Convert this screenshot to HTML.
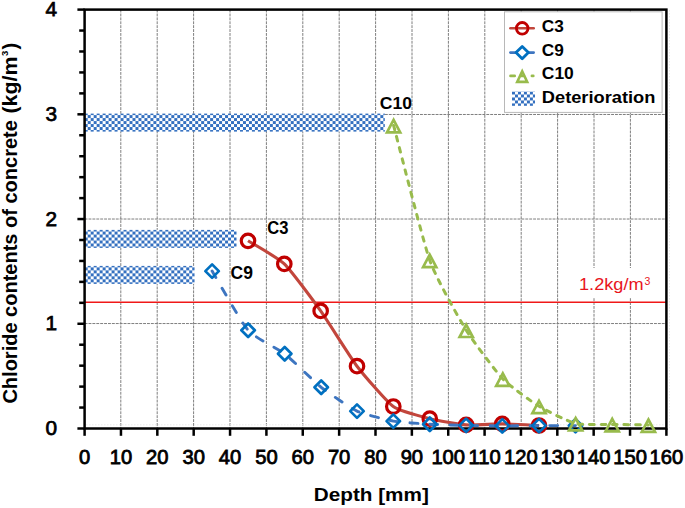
<!DOCTYPE html>
<html><head><meta charset="utf-8"><style>
html,body{margin:0;padding:0;background:#fff;width:685px;height:508px;overflow:hidden}
svg{display:block}
text{font-family:"Liberation Sans",sans-serif}
.num{font-family:"Liberation Sans",sans-serif;font-weight:normal;stroke:#000;stroke-width:0.75px;paint-order:stroke}
</style></head><body>
<svg width="685" height="508" viewBox="0 0 685 508">
<defs>
<pattern id="chk" patternUnits="userSpaceOnUse" width="5.972" height="5.972" x="4.092" y="1.632">
<rect x="0" y="0" width="5.972" height="5.972" fill="#fff"/>
<rect x="0" y="0" width="2.986" height="2.986" fill="#3470c0"/>
<rect x="2.986" y="2.986" width="2.986" height="2.986" fill="#3470c0"/>
</pattern>
<pattern id="chk2" patternUnits="userSpaceOnUse" width="5.972" height="5.972" x="512" y="91.5">
<rect x="0" y="0" width="5.972" height="5.972" fill="#fff"/>
<rect x="0" y="0" width="2.986" height="2.986" fill="#3470c0"/>
<rect x="2.986" y="2.986" width="2.986" height="2.986" fill="#3470c0"/>
</pattern>
</defs>
<rect width="685" height="508" fill="#fff"/>

<g stroke="#7f7f7f" stroke-width="1" stroke-dasharray="2.9 1"><line x1="120.80" y1="9.60" x2="120.80" y2="428.50"/><line x1="157.20" y1="9.60" x2="157.20" y2="428.50"/><line x1="193.60" y1="9.60" x2="193.60" y2="428.50"/><line x1="230.00" y1="9.60" x2="230.00" y2="428.50"/><line x1="266.40" y1="9.60" x2="266.40" y2="428.50"/><line x1="302.80" y1="9.60" x2="302.80" y2="428.50"/><line x1="339.20" y1="9.60" x2="339.20" y2="428.50"/><line x1="375.60" y1="9.60" x2="375.60" y2="428.50"/><line x1="412.00" y1="9.60" x2="412.00" y2="428.50"/><line x1="448.40" y1="9.60" x2="448.40" y2="428.50"/><line x1="484.80" y1="9.60" x2="484.80" y2="428.50"/><line x1="521.20" y1="9.60" x2="521.20" y2="428.50"/><line x1="557.60" y1="9.60" x2="557.60" y2="428.50"/><line x1="594.00" y1="9.60" x2="594.00" y2="428.50"/><line x1="630.40" y1="9.60" x2="630.40" y2="428.50"/><line x1="84.60" y1="323.54" x2="666.40" y2="323.54"/><line x1="84.60" y1="219.02" x2="666.40" y2="219.02"/><line x1="84.60" y1="114.49" x2="666.40" y2="114.49"/></g>
<g stroke="#ebebeb" stroke-width="1" stroke-dasharray="1.5 1.5"><line x1="669.5" y1="10" x2="669.5" y2="428"/><line x1="86" y1="424.8" x2="665" y2="424.8"/></g>
<rect x="84.60" y="113.60" width="300.20" height="18.00" fill="url(#chk)"/>
<rect x="84.60" y="229.90" width="151.90" height="18.00" fill="url(#chk)"/>
<rect x="84.60" y="265.90" width="109.90" height="18.00" fill="url(#chk)"/>
<rect x="575" y="268" width="86" height="30" fill="#fff"/>
<line x1="84.60" y1="302.2" x2="666.40" y2="302.2" stroke="#f01818" stroke-width="1.4"/>
<text x="579" y="289.7" font-size="17.3" fill="#e8141c" textLength="64.6" lengthAdjust="spacingAndGlyphs">1.2kg/m</text>
<text x="644.6" y="284.8" font-size="10.5" fill="#e8141c">3</text>
<rect x="84.60" y="9.60" width="581.80" height="418.90" fill="none" stroke="#000" stroke-width="2.5"/>
<g stroke="#000" stroke-width="2.5"><line x1="77.40" y1="428.50" x2="84.60" y2="428.50"/><line x1="79.20" y1="407.56" x2="84.60" y2="407.56"/><line x1="79.20" y1="386.61" x2="84.60" y2="386.61"/><line x1="79.20" y1="365.67" x2="84.60" y2="365.67"/><line x1="79.20" y1="344.72" x2="84.60" y2="344.72"/><line x1="77.40" y1="323.77" x2="84.60" y2="323.77"/><line x1="79.20" y1="302.83" x2="84.60" y2="302.83"/><line x1="79.20" y1="281.88" x2="84.60" y2="281.88"/><line x1="79.20" y1="260.94" x2="84.60" y2="260.94"/><line x1="79.20" y1="240.00" x2="84.60" y2="240.00"/><line x1="77.40" y1="219.05" x2="84.60" y2="219.05"/><line x1="79.20" y1="198.11" x2="84.60" y2="198.11"/><line x1="79.20" y1="177.16" x2="84.60" y2="177.16"/><line x1="79.20" y1="156.22" x2="84.60" y2="156.22"/><line x1="79.20" y1="135.27" x2="84.60" y2="135.27"/><line x1="77.40" y1="114.32" x2="84.60" y2="114.32"/><line x1="79.20" y1="93.38" x2="84.60" y2="93.38"/><line x1="79.20" y1="72.44" x2="84.60" y2="72.44"/><line x1="79.20" y1="51.49" x2="84.60" y2="51.49"/><line x1="79.20" y1="30.55" x2="84.60" y2="30.55"/><line x1="77.40" y1="9.60" x2="84.60" y2="9.60"/><line x1="84.60" y1="428.50" x2="84.60" y2="435.80"/><line x1="120.96" y1="428.50" x2="120.96" y2="435.80"/><line x1="157.32" y1="428.50" x2="157.32" y2="435.80"/><line x1="193.69" y1="428.50" x2="193.69" y2="435.80"/><line x1="230.05" y1="428.50" x2="230.05" y2="435.80"/><line x1="266.41" y1="428.50" x2="266.41" y2="435.80"/><line x1="302.77" y1="428.50" x2="302.77" y2="435.80"/><line x1="339.14" y1="428.50" x2="339.14" y2="435.80"/><line x1="375.50" y1="428.50" x2="375.50" y2="435.80"/><line x1="411.86" y1="428.50" x2="411.86" y2="435.80"/><line x1="448.22" y1="428.50" x2="448.22" y2="435.80"/><line x1="484.59" y1="428.50" x2="484.59" y2="435.80"/><line x1="520.95" y1="428.50" x2="520.95" y2="435.80"/><line x1="557.31" y1="428.50" x2="557.31" y2="435.80"/><line x1="593.67" y1="428.50" x2="593.67" y2="435.80"/><line x1="630.04" y1="428.50" x2="630.04" y2="435.80"/><line x1="666.40" y1="428.50" x2="666.40" y2="435.80"/></g>
<path d="M248.00,240.80 C251.27,242.88 277.76,257.59 284.30,263.90 C290.84,270.21 314.11,301.69 320.65,310.90 C327.19,320.11 350.46,357.60 357.00,366.20 C363.54,374.80 386.75,401.78 393.30,406.50 C399.85,411.22 423.24,416.99 429.80,418.65 C436.36,420.31 459.63,424.43 466.15,424.90 C472.67,425.37 495.69,423.85 502.25,423.90 C508.81,423.95 535.69,425.36 539.00,425.50" fill="none" stroke="#c2463c" stroke-width="3.1" stroke-linejoin="round"/>
<circle cx="248.00" cy="240.80" r="6.75" fill="none" stroke="#c00000" stroke-width="3.2"/>
<circle cx="284.30" cy="263.90" r="6.75" fill="none" stroke="#c00000" stroke-width="3.2"/>
<circle cx="320.65" cy="310.90" r="6.75" fill="none" stroke="#c00000" stroke-width="3.2"/>
<circle cx="357.00" cy="366.20" r="6.75" fill="none" stroke="#c00000" stroke-width="3.2"/>
<circle cx="393.30" cy="406.50" r="6.75" fill="none" stroke="#c00000" stroke-width="3.2"/>
<circle cx="429.80" cy="418.65" r="6.75" fill="none" stroke="#c00000" stroke-width="3.2"/>
<circle cx="466.15" cy="424.90" r="6.75" fill="none" stroke="#c00000" stroke-width="3.2"/>
<circle cx="502.25" cy="423.90" r="6.75" fill="none" stroke="#c00000" stroke-width="3.2"/>
<circle cx="539.00" cy="425.50" r="6.75" fill="none" stroke="#c00000" stroke-width="3.2"/>
<path d="M212.10,271.10 C215.34,276.43 241.57,322.86 248.10,330.30 C254.63,337.74 278.12,348.67 284.70,353.80 C291.28,358.93 314.69,382.14 321.20,387.30 C327.71,392.46 350.51,408.06 357.00,411.10 C363.49,414.14 386.75,419.92 393.30,421.10 C399.85,422.28 423.25,423.81 429.80,424.20 C436.35,424.59 459.58,425.25 466.10,425.40 C472.62,425.55 495.74,425.88 502.30,425.90 C508.86,425.92 532.41,425.63 539.00,425.60 C545.59,425.57 572.22,425.60 575.50,425.60" fill="none" stroke="#3d75c0" stroke-width="2.9" stroke-dasharray="7.8 12.2" stroke-linecap="round"/>
<path d="M212.10,264.35 L218.85,271.10 L212.10,277.85 L205.35,271.10 Z" fill="none" stroke="#0070c0" stroke-width="2.7" stroke-linejoin="round"/>
<path d="M248.10,323.55 L254.85,330.30 L248.10,337.05 L241.35,330.30 Z" fill="none" stroke="#0070c0" stroke-width="2.7" stroke-linejoin="round"/>
<path d="M284.70,347.05 L291.45,353.80 L284.70,360.55 L277.95,353.80 Z" fill="none" stroke="#0070c0" stroke-width="2.7" stroke-linejoin="round"/>
<path d="M321.20,380.55 L327.95,387.30 L321.20,394.05 L314.45,387.30 Z" fill="none" stroke="#0070c0" stroke-width="2.7" stroke-linejoin="round"/>
<path d="M357.00,404.35 L363.75,411.10 L357.00,417.85 L350.25,411.10 Z" fill="none" stroke="#0070c0" stroke-width="2.7" stroke-linejoin="round"/>
<path d="M393.30,414.35 L400.05,421.10 L393.30,427.85 L386.55,421.10 Z" fill="none" stroke="#0070c0" stroke-width="2.7" stroke-linejoin="round"/>
<path d="M429.80,417.45 L436.55,424.20 L429.80,430.95 L423.05,424.20 Z" fill="none" stroke="#0070c0" stroke-width="2.7" stroke-linejoin="round"/>
<path d="M466.10,418.65 L472.85,425.40 L466.10,432.15 L459.35,425.40 Z" fill="none" stroke="#0070c0" stroke-width="2.7" stroke-linejoin="round"/>
<path d="M502.30,419.15 L509.05,425.90 L502.30,432.65 L495.55,425.90 Z" fill="none" stroke="#0070c0" stroke-width="2.7" stroke-linejoin="round"/>
<path d="M539.00,418.85 L545.75,425.60 L539.00,432.35 L532.25,425.60 Z" fill="none" stroke="#0070c0" stroke-width="2.7" stroke-linejoin="round"/>
<path d="M575.50,418.85 L582.25,425.60 L575.50,432.35 L568.75,425.60 Z" fill="none" stroke="#0070c0" stroke-width="2.7" stroke-linejoin="round"/>
<path d="M393.60,125.45 C396.85,137.58 423.17,241.78 429.70,260.20 C436.23,278.62 459.62,319.42 466.20,330.10 C472.78,340.78 496.25,372.04 502.80,378.90 C509.35,385.76 532.45,402.29 539.00,406.30 C545.55,410.31 569.01,421.87 575.60,423.50 C582.19,425.13 605.65,424.26 612.20,424.40 C618.75,424.53 645.14,424.95 648.40,425.00" fill="none" stroke="#98bb4c" stroke-width="3" stroke-dasharray="4.6 6.9" stroke-linecap="round"/>
<path d="M393.60,119.95 L400.20,132.35 L387.00,132.35 Z" fill="none" stroke="#98bb4c" stroke-width="2.7" stroke-linejoin="miter"/>
<path d="M429.70,254.70 L436.30,267.10 L423.10,267.10 Z" fill="none" stroke="#98bb4c" stroke-width="2.7" stroke-linejoin="miter"/>
<path d="M466.20,324.60 L472.80,337.00 L459.60,337.00 Z" fill="none" stroke="#98bb4c" stroke-width="2.7" stroke-linejoin="miter"/>
<path d="M502.80,373.40 L509.40,385.80 L496.20,385.80 Z" fill="none" stroke="#98bb4c" stroke-width="2.7" stroke-linejoin="miter"/>
<path d="M539.00,400.80 L545.60,413.20 L532.40,413.20 Z" fill="none" stroke="#98bb4c" stroke-width="2.7" stroke-linejoin="miter"/>
<path d="M575.60,418.00 L582.20,430.40 L569.00,430.40 Z" fill="none" stroke="#98bb4c" stroke-width="2.7" stroke-linejoin="miter"/>
<path d="M612.20,418.90 L618.80,431.30 L605.60,431.30 Z" fill="none" stroke="#98bb4c" stroke-width="2.7" stroke-linejoin="miter"/>
<path d="M648.40,419.50 L655.00,431.90 L641.80,431.90 Z" fill="none" stroke="#98bb4c" stroke-width="2.7" stroke-linejoin="miter"/>
<text class="num" x="57.2" y="435.10" font-size="20.8" text-anchor="end">0</text>
<text class="num" x="57.2" y="330.38" font-size="20.8" text-anchor="end">1</text>
<text class="num" x="57.2" y="225.65" font-size="20.8" text-anchor="end">2</text>
<text class="num" x="57.2" y="120.93" font-size="20.8" text-anchor="end">3</text>
<text class="num" x="57.2" y="16.20" font-size="20.8" text-anchor="end">4</text>
<text class="num" x="84.60" y="463.8" font-size="20.2" text-anchor="middle" style="stroke-width:0.8px">0</text>
<text class="num" x="120.96" y="463.8" font-size="20.2" text-anchor="middle" style="stroke-width:0.8px">10</text>
<text class="num" x="157.32" y="463.8" font-size="20.2" text-anchor="middle" style="stroke-width:0.8px">20</text>
<text class="num" x="193.69" y="463.8" font-size="20.2" text-anchor="middle" style="stroke-width:0.8px">30</text>
<text class="num" x="230.05" y="463.8" font-size="20.2" text-anchor="middle" style="stroke-width:0.8px">40</text>
<text class="num" x="266.41" y="463.8" font-size="20.2" text-anchor="middle" style="stroke-width:0.8px">50</text>
<text class="num" x="302.77" y="463.8" font-size="20.2" text-anchor="middle" style="stroke-width:0.8px">60</text>
<text class="num" x="339.14" y="463.8" font-size="20.2" text-anchor="middle" style="stroke-width:0.8px">70</text>
<text class="num" x="375.50" y="463.8" font-size="20.2" text-anchor="middle" style="stroke-width:0.8px">80</text>
<text class="num" x="411.86" y="463.8" font-size="20.2" text-anchor="middle" style="stroke-width:0.8px">90</text>
<text class="num" x="448.22" y="463.8" font-size="20.2" text-anchor="middle" style="stroke-width:0.8px">100</text>
<text class="num" x="484.59" y="463.8" font-size="20.2" text-anchor="middle" style="stroke-width:0.8px">110</text>
<text class="num" x="520.95" y="463.8" font-size="20.2" text-anchor="middle" style="stroke-width:0.8px">120</text>
<text class="num" x="557.31" y="463.8" font-size="20.2" text-anchor="middle" style="stroke-width:0.8px">130</text>
<text class="num" x="593.67" y="463.8" font-size="20.2" text-anchor="middle" style="stroke-width:0.8px">140</text>
<text class="num" x="630.04" y="463.8" font-size="20.2" text-anchor="middle" style="stroke-width:0.8px">150</text>
<text class="num" x="666.40" y="463.8" font-size="20.2" text-anchor="middle" style="stroke-width:0.8px">160</text>
<text x="313.8" y="500.9" font-size="19" font-weight="bold" textLength="115" lengthAdjust="spacingAndGlyphs">Depth [mm]</text>
<g transform="translate(17.1,403.6) rotate(-90)" font-size="20.5" font-weight="bold"><text x="0" y="0" textLength="283.5" lengthAdjust="spacingAndGlyphs">Chloride contents of concrete</text><text x="290.1" y="0" textLength="57.1" lengthAdjust="spacingAndGlyphs">(kg/m</text><text x="347.6" y="-9.4" font-size="9.5">3</text><text x="354.2" y="0">)</text></g>
<text x="267.2" y="234.1" font-size="17.5" font-weight="bold" textLength="21.2" lengthAdjust="spacingAndGlyphs">C3</text>
<text x="230.5" y="278.7" font-size="17.5" font-weight="bold">C9</text>
<text x="379.8" y="109.2" font-size="16.5" font-weight="bold" textLength="32.2" lengthAdjust="spacingAndGlyphs">C10</text>
<rect x="504.5" y="11.8" width="157.6" height="100.6" fill="#fff" stroke="#b8b8b8" stroke-width="1"/>
<line x1="510.4" y1="28.30" x2="533.7" y2="28.30" stroke="#c2463c" stroke-width="2.6" stroke-linecap="round"/>
<circle cx="522.20" cy="28.30" r="5.8" fill="none" stroke="#c00000" stroke-width="2.8"/>
<line x1="510.4" y1="52.60" x2="533.7" y2="52.60" stroke="#3d75c0" stroke-width="2.6" stroke-linecap="round"/>
<path d="M522.20,46.40 L528.40,52.60 L522.20,58.80 L516.00,52.60 Z" fill="#fff" stroke="#0070c0" stroke-width="2.8" stroke-linejoin="round"/>
<path d="M510.6,75.90 H514.6 M520.6,75.90 H523.8 M532,75.90 H533.2" stroke="#98bb4c" stroke-width="2.9" stroke-linecap="round"/>
<path d="M522.20,71.30 L527.20,81.90 L517.20,81.90 Z" fill="none" stroke="#98bb4c" stroke-width="2.6"/>
<rect x="512" y="91.5" width="23" height="14.3" fill="url(#chk2)"/>
<text x="541.8" y="32.2" font-size="17.2" font-weight="bold">C3</text>
<text x="541.8" y="56.4" font-size="17.2" font-weight="bold">C9</text>
<text x="541.8" y="79.2" font-size="17.2" font-weight="bold" textLength="32" lengthAdjust="spacingAndGlyphs">C10</text>
<text x="541.8" y="103.1" font-size="17.2" font-weight="bold" textLength="113.6" lengthAdjust="spacingAndGlyphs">Deterioration</text>
</svg></body></html>
